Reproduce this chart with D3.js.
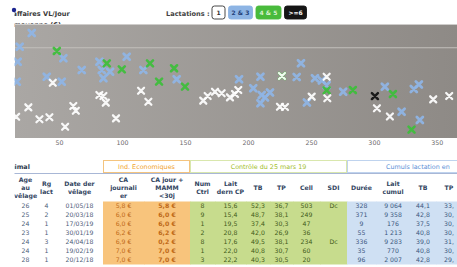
<!DOCTYPE html>
<html>
<head>
<meta charset="utf-8">
<script src="https://cdn.jsdelivr.net/npm/d3@7/dist/d3.min.js"></script>
<style>
body { margin: 0; background: #fff; }
svg { display: block; font-family: "DejaVu Sans", Verdana, sans-serif; }
</style>
</head>
<body>
<div id="chart"></div>
<script>
// ---- data ----
var lactLabels = ["1", "2 & 3", "4 & 5", ">=6"];

// [days in milk, € / day]
var lact1 = [[45,5.82],[25.6,3.23],[15.9,2.24],[34.4,1.97],[42.3,2.18],[54.8,1.19],[61.3,3.37],[63.3,2.87],
  [82,4.53],[85.2,4.42],[87.1,3.72],[95.2,2.07],[115.1,4.98],[120.9,3.82],[164.5,3.93],[168,4.42],
  [173.8,4.87],[179.1,4.71],[185.7,4.28],[189.7,4.63],[192.3,5.05],[225.4,3.29],[229.4,3.26],[250.6,4.35],
  [262.5,6.45],[263,4.18],[302.4,3.13],[312.7,2.26],[347.1,4.07],[359.8,4.42],[227,6.53]];
var lact23 = [[28.3,11.05],[18.7,9.61],[17.1,8.03],[16.4,5.93],[40.2,6.45],[52.1,5.93],[53.4,8.39],[68,7.16],
  [82,8.03],[83.9,7.16],[90.5,6.98],[85.2,6.28],[103.7,8.56],[116.9,7.16],[143.4,6.18],[192.9,6.18],
  [204.2,5.23],[209.9,6.45],[210.9,4.53],[217.5,4.79],[213.5,4.26],[209.9,3.65],[238.7,6.42],[242.1,7.86],
  [253.2,6.28],[258.7,6.05],[262.5,5.58],[246.8,3.74],[275.6,4.87],[308.7,5.4],[322,2.77],[331.7,5.16],
  [335.7,5.63],[336.5,1.89]];
var lact45 = [[48.2,9.16],[87.9,7.86],[99.8,7.23],[122.2,7.86],[129.4,5.93],[141.3,7.34],[150,5.4],
  [262.5,5.02],[283.3,5.05],[315.1,4.63],[329.9,0.89],[227,6.53]];
var lact6 = [[300.8,4.42]];
var herdMean = 9.5;
var xTicks = [50, 100, 150, 200, 250, 300, 350];

// table
var sections = ["Animal", "Ind. Economiques", "Contrôle du 25 mars 19", "Cumuls lactation en"];
var headers = [["Age","au","vêlage"],["Rg","lact"],["Date der","vêlage"],["CA","journali","er"],
  ["CA jour +","MAMM","<30j"],["Num","Ctrl"],["Lait","dern CP"],["TB"],["TP"],["Cell"],["SDI"],
  ["Durée"],["Lait","cumul"],["TB"],["TP"]];
var ageVel   = ["26","25","24","23","24","24","28"];
var rgLact   = ["4","2","1","1","3","1","1"];
var dateVel  = ["01/05/18","20/03/18","17/03/19","30/01/19","24/04/18","19/02/19","20/12/18"];
var caJour   = ["5,8 €","6,0 €","6,0 €","6,2 €","6,9 €","7,0 €","7,0 €"];
var caMamm   = ["5,8 €","6,0 €","6,0 €","6,2 €","0,2 €","7,0 €","7,0 €"];
var numCtrl  = ["8","9","1","2","8","1","3"];
var laitCP   = ["15,6","15,4","19,5","20,8","17,6","22,0","22,2"];
var tbCtrl   = ["52,3","48,7","37,4","42,0","49,5","40,8","40,3"];
var tpCtrl   = ["36,7","38,1","30,3","26,9","38,1","30,7","30,5"];
var cell     = ["503","249","47","36","234","60","20"];
var sdi      = ["Dc","","","","Dc","",""];
var duree    = ["328","371","9","55","336","35","96"];
var laitCum  = ["9 064","9 358","176","1 213","9 283","770","2 007"];
var tbCum    = ["44,1","42,8","37,5","40,8","39,0","40,8","42,8"];
var tpCum    = ["33,","30,","30,","30,","31,","30,","29,"];

// ---- drawing ----
var W = 457, H = 267;
var svg = d3.select("#chart").append("svg").attr("width", W).attr("height", H);
var defs = svg.append("defs");
var grad = defs.append("linearGradient").attr("id", "bg");
grad.append("stop").attr("offset", "0%").attr("stop-color", "#aaa7a4");
grad.append("stop").attr("offset", "100%").attr("stop-color", "#8e8a86");
defs.append("clipPath").attr("id", "cut").append("rect")
  .attr("x", 14.5).attr("y", 0).attr("width", W).attr("height", H);

var plot = {left: 15, right: 457, top: 24, bottom: 138};
var x = d3.scaleLinear().domain([15, 366]).range([plot.left, plot.right]);
var y = d3.scaleLinear().domain([0, 12]).range([plot.bottom, plot.top]);

// axis title (cut on the left, second line mostly under the plot)
var title = svg.append("g").attr("clip-path", "url(#cut)");
title.append("text").attr("x", 12.6).attr("y", 15.5).attr("font-size", 6.6).attr("font-weight", "bold")
  .attr("fill", "#3a3a3a").text("affaires VL/Jour");
title.append("text").attr("x", 14).attr("y", 27).attr("font-size", 6.6).attr("font-weight", "bold")
  .attr("fill", "#3a3a3a").text("moyenne (€)");
svg.append("circle").attr("cx", 14).attr("cy", 10).attr("r", 2.2).attr("fill", "#1c2590");

// legend
svg.append("text").attr("x", 166).attr("y", 15.5).attr("font-size", 6.6).attr("font-weight", "bold")
  .attr("fill", "#444").text("Lactations :");
var legFill = {"1": "#ffffff", "2 & 3": "#8db4e4", "4 & 5": "#49bb3c", ">=6": "#151515"};
var legText = {"1": "#333", "2 & 3": "#23407a", "4 & 5": "#d8f2d0", ">=6": "#ffffff"};
var legW = {"1": 13, "2 & 3": 24, "4 & 5": 25, ">=6": 22};
var lx = 212;
lactLabels.forEach(function(l) {
  var g = svg.append("g").attr("transform", "translate(" + lx + ",6)");
  g.append("rect").attr("width", legW[l]).attr("height", 13).attr("rx", 2.5)
    .attr("fill", legFill[l]).attr("stroke", l == "1" ? "#333" : legFill[l]).attr("stroke-width", 0.9);
  g.append("text").attr("x", legW[l] / 2).attr("y", 9.3).attr("text-anchor", "middle")
    .attr("font-size", 6).attr("font-weight", "bold").attr("fill", legText[l]).text(l);
  lx += legW[l] + 3.5;
});

// plot area
var pg = svg.append("g").attr("clip-path", "url(#cut)");
pg.append("rect").attr("x", plot.left).attr("y", plot.top)
  .attr("width", plot.right - plot.left).attr("height", plot.bottom - plot.top).attr("fill", "url(#bg)");
pg.append("line").attr("x1", plot.left).attr("x2", plot.right).attr("y1", plot.top + 0.5).attr("y2", plot.top + 0.5)
  .attr("stroke", "#cfcdcb").attr("stroke-width", 1);
pg.append("line").attr("x1", plot.left).attr("x2", plot.right).attr("y1", y(herdMean)).attr("y2", y(herdMean))
  .attr("stroke", "#c2bfbb").attr("stroke-width", 1.2);

function drawX(data, color, width) {
  pg.selectAll(null).data(data).enter().append("path")
    .attr("transform", function(d) { return "translate(" + x(d[0]) + "," + y(d[1]) + ")"; })
    .attr("d", "M-3,-3L3,3M-3,3L3,-3")
    .attr("stroke", color).attr("stroke-width", width).attr("stroke-linecap", "round")
    .attr("fill", "none").attr("opacity", 0.92);
}
drawX(lact23, "#8fb5e6", 2.8);
drawX(lact45, "#3cbf3a", 2.6);
drawX(lact1, "#ffffff", 2.3);
drawX(lact6, "#111111", 2.5);

// x axis labels
var xAxis = svg.append("g").attr("transform", "translate(0," + plot.bottom + ")")
  .call(d3.axisBottom(x).tickValues(xTicks).tickSize(0).tickPadding(3));
xAxis.select(".domain").remove();
xAxis.selectAll("text").attr("font-size", 6.3).attr("fill", "#6a6a6a")
  .attr("font-family", "DejaVu Sans, sans-serif");

// ---- table ----
var tg = svg.append("g").attr("clip-path", "url(#cut)");
var colEdges = [14, 37, 56, 103, 144, 190, 215, 246, 270, 293, 320, 347, 376, 410, 436, 462];
var cols = [ageVel, rgLact, dateVel, caJour, caMamm, numCtrl, laitCP, tbCtrl, tpCtrl, cell, sdi,
  duree, laitCum, tbCum, tpCum];
var colGroup = [0,0,0,1,1,2,2,2,2,2,2,3,3,3,3];
var bgCol = ["#ffffff", "#f8c47c", "#c7dc8d", "#cfe0f3"];
var txtCol = ["#4e5d78", "#c06a18", "#3f5a18", "#3b5780"];
var secText = ["#2f3b4d", "#f0a22c", "#9fbd2c", "#5a8fd6"];
var secBorder = ["none", "#f4c47e", "#d9e7ad", "#bfd3ee"];

// section row
var secEdges = [[-20, 103], [103, 190], [190, 347], [347, 520]];
sections.forEach(function(s, i) {
  var e = secEdges[i];
  if (i > 0) tg.append("rect").attr("x", e[0] + 0.5).attr("y", 160.5).attr("width", e[1] - e[0] - 1)
    .attr("height", 12).attr("fill", "#fff").attr("stroke", secBorder[i]).attr("stroke-width", 1);
  tg.append("text")
    .attr("x", i == 0 ? 5 : (i == 3 ? 386 : (e[0] + e[1]) / 2))
    .attr("y", 168.8).attr("text-anchor", i == 0 || i == 3 ? "start" : "middle")
    .attr("font-size", 6.4).attr("font-weight", i == 0 ? "bold" : "normal")
    .attr("fill", secText[i]).text(s);
});
tg.append("line").attr("x1", 0).attr("x2", W).attr("y1", 173.5).attr("y2", 173.5)
  .attr("stroke", "#a8b7d6").attr("stroke-width", 1.2);

// header row
headers.forEach(function(h, i) {
  var cx = (colEdges[i] + colEdges[i + 1]) / 2;
  var n = h.length, mid = 187.5;
  h.forEach(function(line, k) {
    tg.append("text").attr("x", cx).attr("y", mid + (k - (n - 1) / 2) * 7.8 + 2.2)
      .attr("text-anchor", "middle").attr("font-size", 6.2).attr("font-weight", "bold")
      .attr("fill", "#33455f").text(line);
  });
});

// data rows
var rowY = d3.scaleBand().domain(d3.range(ageVel.length)).range([201.5, 201.5 + 9 * ageVel.length]);
cols.forEach(function(col, i) {
  var g = colGroup[i];
  if (g > 0) tg.append("rect").attr("x", colEdges[i]).attr("y", rowY(0))
    .attr("width", colEdges[i + 1] - colEdges[i] + 0.5).attr("height", rowY.step() * col.length)
    .attr("fill", bgCol[g]);
  tg.selectAll(null).data(col).enter().append("text")
    .attr("x", (colEdges[i] + colEdges[i + 1]) / 2)
    .attr("y", function(d, r) { return rowY(r) + rowY.bandwidth() / 2 + 2.3; })
    .attr("text-anchor", "middle").attr("font-size", 6.2)
    .attr("font-weight", i == 4 ? "bold" : "normal")
    .attr("fill", txtCol[g]).text(function(d) { return d; });
});
</script>
</body>
</html>
